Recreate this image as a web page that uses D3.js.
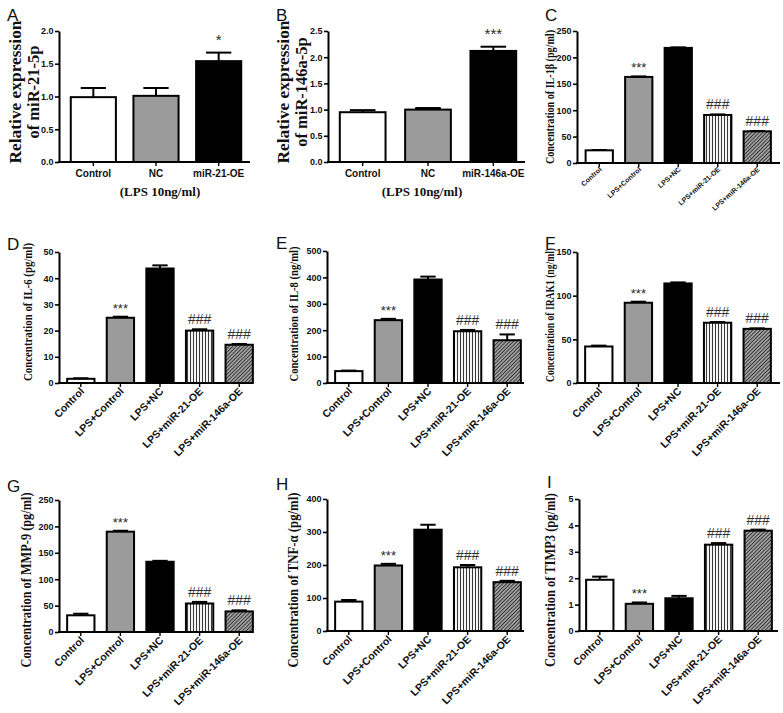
<!DOCTYPE html>
<html><head><meta charset="utf-8">
<script src="https://cdn.jsdelivr.net/npm/d3@7"></script>
<style>body{margin:0;background:#fff}svg{display:block}</style>
</head><body>
<svg id="chart" width="783" height="713"></svg>
<script>
// ---------- DATA ----------
const catsA = ["Control", "NC", "miR-21-OE"];
const catsB = ["Control", "NC", "miR-146a-OE"];
const cats5 = ["Control", "LPS+Control", "LPS+NC", "LPS+miR-21-OE", "LPS+miR-146a-OE"];

const valuesA = [0.99, 1.01, 1.54];
const errorsA = [0.14, 0.12, 0.13];
const sigA = ["", "", "*"];
const ticksA = [0, 0.5, 1.0, 1.5, 2.0];

const valuesB = [0.95, 1.0, 2.12];
const errorsB = [0.04, 0.03, 0.08];
const sigB = ["", "", "***"];
const ticksB = [0, 0.5, 1.0, 1.5, 2.0, 2.5];

const sig5 = ["", "***", "", "###", "###"];

const valuesC = [24, 163, 218, 91, 60];
const errorsC = [0.6, 1, 1, 1, 0.6];
const ticksC = [0, 50, 100, 150, 200, 250];

const valuesD = [1.6, 24.9, 43.7, 20.0, 14.6];
const errorsD = [0.2, 0.4, 1.2, 0.5, 0.3];
const ticksD = [0, 10, 20, 30, 40, 50];

const valuesE = [45, 238, 392, 196, 162];
const errorsE = [2, 5, 11, 5, 22];
const ticksE = [0, 100, 200, 300, 400, 500];

const valuesF = [41.8, 91.9, 114, 69, 62];
const errorsF = [1, 1.2, 1.2, 0.8, 0.6];
const ticksF = [0, 50, 100, 150];

const valuesG = [31.6, 190, 133, 54, 39];
const errorsG = [3, 1.8, 1.8, 3, 2];
const ticksG = [0, 50, 100, 150, 200, 250];

const valuesH = [89, 198.5, 307, 193, 148];
const errorsH = [5, 5, 15, 7, 4];
const ticksH = [0, 100, 200, 300, 400];

const valuesI = [1.94, 1.03, 1.24, 3.27, 3.8];
const errorsI = [0.12, 0.05, 0.09, 0.06, 0.04];
const ticksI = [0, 1, 2, 3, 4, 5];

const titleA = ["Relative expression", "of miR-21-5p"];
const titleB = ["Relative expression", "of miR-146a-5p"];
const titleC = "Concentration of IL-1\u03b2 (pg/ml)";
const titleD = "Concentration of IL-6 (pg/ml)";
const titleE = "Concentration of IL-8 (ng/ml)";
const titleF = "Concentration of IRAK1 (ng/ml)";
const titleG = "Concentration of MMP-9 (pg/ml)";
const titleH = "Concentration of TNF-\u03b1  (pg/ml)";
const titleI = "Concentration of TIMP3 (pg/ml)";
const lpsNote = "(LPS 10ng/ml)";

// ---------- DRAWING ----------
const SANS = "'Liberation Sans', Arial, Helvetica, sans-serif";
const SERIF = "'Liberation Serif', 'Times New Roman', Times, serif";
const svg = d3.select("#chart");
svg.append("rect").attr("width", 783).attr("height", 713).attr("fill", "#fff");
const defs = svg.append("defs");

const pv = defs.append("pattern").attr("id", "vert").attr("patternUnits", "userSpaceOnUse")
  .attr("width", 3).attr("height", 10);
pv.append("rect").attr("width", 3).attr("height", 10).attr("fill", "#f4f4f4");
pv.append("line").attr("x1", 1.5).attr("x2", 1.5).attr("y1", 0).attr("y2", 10)
  .attr("stroke", "#3a3a3a").attr("stroke-width", 1);

const pd = defs.append("pattern").attr("id", "diag").attr("patternUnits", "userSpaceOnUse")
  .attr("width", 2.6).attr("height", 10).attr("patternTransform", "rotate(45)");
pd.append("rect").attr("width", 2.6).attr("height", 10).attr("fill", "#bdbdbd");
pd.append("line").attr("x1", 1.3).attr("x2", 1.3).attr("y1", 0).attr("y2", 10)
  .attr("stroke", "#2e2e2e").attr("stroke-width", 1.2);

const fills5 = ["#ffffff", "#9b9b9b", "#000000", "url(#vert)", "url(#diag)"];
const fills3 = ["#ffffff", "#9b9b9b", "#000000"];

function panel(c) {
  const g = svg.append("g");
  const y = d3.scaleLinear().domain([0, c.ticks[c.ticks.length - 1]]).range([c.bottom, c.top]);
  const x = d3.scaleBand().domain(c.cats).range(c.band)
    .paddingInner(c.pad).paddingOuter(c.pad / 2);
  const bw = x.bandwidth();

  // bars
  g.selectAll("rect.bar").data(c.vals).join("rect")
    .attr("x", (d, i) => x(c.cats[i]))
    .attr("y", d => y(d))
    .attr("width", bw)
    .attr("height", d => c.bottom - y(d))
    .attr("fill", (d, i) => c.fills[i])
    .attr("stroke", "#000").attr("stroke-width", 2);

  // error bars (upper)
  c.vals.forEach((v, i) => {
    const cx = x(c.cats[i]) + bw / 2;
    const yt = y(v + c.errs[i]);
    g.append("line").attr("x1", cx).attr("x2", cx).attr("y1", y(v)).attr("y2", yt)
      .attr("stroke", "#000").attr("stroke-width", 2);
    g.append("line").attr("x1", cx - bw * 0.28).attr("x2", cx + bw * 0.28).attr("y1", yt).attr("y2", yt)
      .attr("stroke", "#000").attr("stroke-width", 2);
    if (c.sig[i]) {
      const isStar = c.sig[i][0] === "*";
      g.append("text").attr("x", cx).attr("y", yt - (isStar ? c.starGap : c.hashGap))
        .attr("text-anchor", "middle")
        .attr("font-family", SANS)
        .attr("font-size", isStar ? c.starSize : c.hashSize)
        .attr("fill", isStar ? "#2a2a2a" : "#333")
        .text(c.sig[i]);
    }
  });

  // y axis
  const ya = g.append("g").attr("transform", `translate(${c.left},0)`)
    .call(d3.axisLeft(y).tickValues(c.ticks).tickFormat(d3.format(c.fmt)).tickSize(4).tickSizeOuter(0));
  ya.select(".domain").attr("stroke-width", 2);
  ya.selectAll(".tick line").attr("stroke-width", 1.6);
  ya.selectAll("text").attr("font-family", SANS).attr("font-weight", "bold")
    .attr("font-size", c.tickSize).attr("x", -5.5).attr("fill", "#111");

  // x axis
  const xa = g.append("g").attr("transform", `translate(0,${c.bottom})`)
    .call(d3.axisBottom(x).tickSize(4).tickSizeOuter(0).tickFormat(""));
  xa.select(".domain").remove();
  xa.selectAll(".tick line").attr("stroke-width", 1.4);
  g.append("line").attr("x1", c.left - 1).attr("x2", c.right).attr("y1", c.bottom).attr("y2", c.bottom)
    .attr("stroke", "#000").attr("stroke-width", 2);

  // category labels
  c.cats.forEach((cat, i) => {
    const cx = x(cat) + bw / 2;
    const t = g.append("text").attr("font-family", SANS).attr("font-weight", "bold")
      .attr("font-size", c.catSize).attr("fill", "#111").text(cat);
    if (c.rot) {
      t.attr("text-anchor", "end")
        .attr("transform", `translate(${cx + c.catDx},${c.bottom + c.catDy}) rotate(${c.rot})`);
    } else {
      t.attr("text-anchor", "middle").attr("x", cx).attr("y", c.bottom + 15);
    }
  });

  // y title
  const lines = Array.isArray(c.title) ? c.title : [c.title];
  lines.forEach((ln, i) => {
    const t = g.append("text").attr("font-family", SERIF).attr("font-weight", "bold")
      .attr("font-size", c.titleSize).attr("text-anchor", "middle").attr("fill", "#111")
      .attr("transform", `translate(${c.tx[i]},${c.ty}) rotate(-90)`).text(ln);
    if (c.tlen && c.tlen[i]) t.attr("textLength", c.tlen[i]).attr("lengthAdjust", "spacingAndGlyphs");
  });

  // note
  if (c.note) {
    g.append("text").attr("x", c.noteX).attr("y", c.bottom + 34).attr("text-anchor", "middle")
      .attr("font-family", SERIF).attr("font-weight", "bold").attr("font-size", 13)
      .attr("fill", "#111").text(c.note);
  }

  // letter
  g.append("text").attr("x", c.lx).attr("y", c.ly).attr("font-family", SANS)
    .attr("font-size", 17).attr("fill", "#111").text(c.letter);
}

const common5 = { cats: cats5, sig: sig5, fills: fills5, pad: 0.31, fmt: "d", tickSize: 9,
  catSize: 10.5, rot: -45, catDx: 4, catDy: 9, starSize: 13, hashSize: 14, starGap: 4, hashGap: 5 };

panel({ cats: catsA, vals: valuesA, errs: errorsA, sig: sigA, ticks: ticksA, fmt: ".1f", fills: fills3,
  left: 59, right: 250, top: 31, bottom: 162, band: [62, 250], pad: 0.28, tickSize: 9,
  catSize: 10, rot: 0, starSize: 15, starGap: 8, hashSize: 13, hashGap: 5,
  title: titleA, tx: [21, 39], ty: 92, titleSize: 16.5, tlen: [143],
  note: lpsNote, noteX: 160, letter: "A", lx: 7, ly: 21 });

panel({ cats: catsB, vals: valuesB, errs: errorsB, sig: sigB, ticks: ticksB, fmt: ".1f", fills: fills3,
  left: 328, right: 525, top: 31, bottom: 162, band: [330, 526], pad: 0.3, tickSize: 9,
  catSize: 10, rot: 0, starSize: 15, starGap: 8, hashSize: 13, hashGap: 5,
  title: titleB, tx: [289, 307], ty: 92, titleSize: 16.5, tlen: [143],
  note: lpsNote, noteX: 422, letter: "B", lx: 276, ly: 21 });

panel(Object.assign({}, common5, { vals: valuesC, errs: errorsC, ticks: ticksC,
  left: 577, right: 780, top: 31, bottom: 163, band: [579.5, 777],
  catSize: 7, rot: -42, catDx: 3, catDy: 7,
  title: titleC, tx: [554], ty: 97, titleSize: 12, tlen: [134],
  letter: "C", lx: 545, ly: 21 }));

panel(Object.assign({}, common5, { vals: valuesD, errs: errorsD, ticks: ticksD,
  left: 59, right: 253, top: 252, bottom: 383, band: [61, 259],
  title: titleD, tx: [32], ty: 312, titleSize: 12.5, tlen: [138],
  letter: "D", lx: 7, ly: 250 }));

panel(Object.assign({}, common5, { vals: valuesE, errs: errorsE, ticks: ticksE,
  left: 327, right: 524, top: 251, bottom: 383, band: [329, 527],
  title: titleE, tx: [298], ty: 314, titleSize: 12.5, tlen: [135],
  letter: "E", lx: 276, ly: 249 }));

panel(Object.assign({}, common5, { vals: valuesF, errs: errorsF, ticks: ticksF,
  left: 577, right: 780, top: 252, bottom: 383, band: [579, 777],
  title: titleF, tx: [554], ty: 315, titleSize: 12.5, tlen: [134],
  letter: "F", lx: 545, ly: 249 }));

panel(Object.assign({}, common5, { vals: valuesG, errs: errorsG, ticks: ticksG,
  left: 59, right: 253, top: 500, bottom: 632, band: [61, 259],
  title: titleG, tx: [31], ty: 580, titleSize: 15, tlen: [175],
  letter: "G", lx: 7, ly: 492 }));

panel(Object.assign({}, common5, { vals: valuesH, errs: errorsH, ticks: ticksH,
  left: 327, right: 524, top: 499, bottom: 631, band: [329, 527],
  title: titleH, tx: [298], ty: 580, titleSize: 15, tlen: [175],
  letter: "H", lx: 276, ly: 490 }));

panel(Object.assign({}, common5, { vals: valuesI, errs: errorsI, ticks: ticksI,
  left: 579, right: 778, top: 499, bottom: 631, band: [580, 778],
  title: titleI, tx: [555], ty: 580, titleSize: 15, tlen: [174],
  letter: "I", lx: 547, ly: 488 }));
</script>
</body></html>
